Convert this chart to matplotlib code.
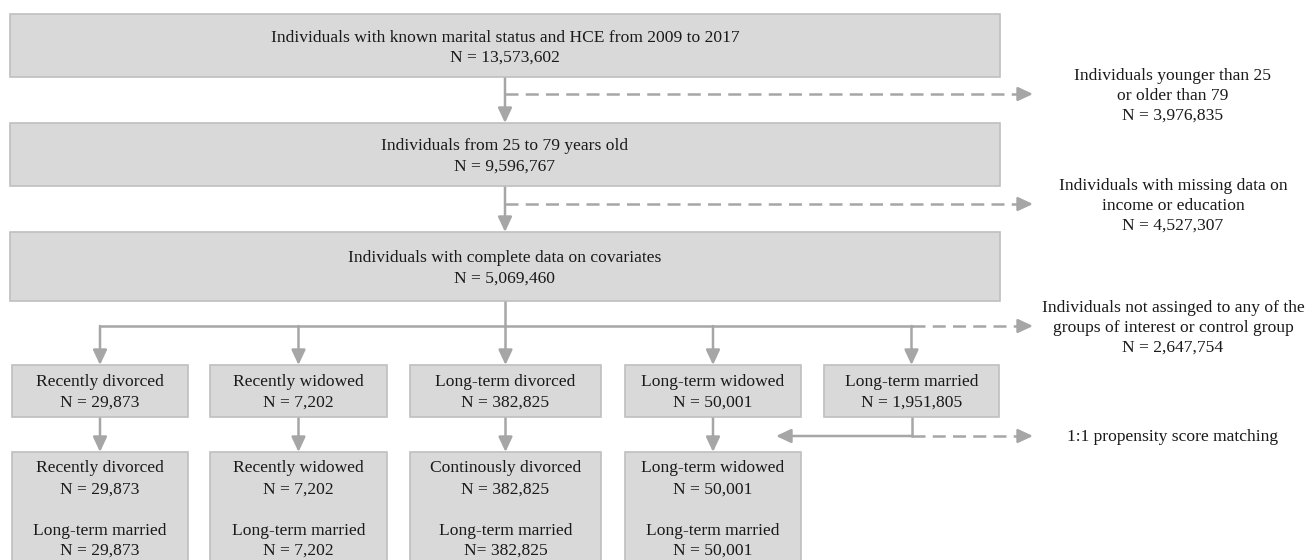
import matplotlib.pyplot as plt
from matplotlib.patches import Rectangle

# -------------------------
# DATA
# -------------------------

main_labels = [
    "Individuals with known marital status and HCE from 2009 to 2017",
    "Individuals from 25 to 79 years old",
    "Individuals with complete data on covariates",
]
main_n = ["13,573,602", "9,596,767", "5,069,460"]

excluded_labels = [
    "Individuals younger than 25\nor older than 79",
    "Individuals with missing data on\nincome or education",
    "Individuals not assinged to any of the\ngroups of interest or control group",
]
excluded_n = ["3,976,835", "4,527,307", "2,647,754"]

group_labels = ["Recently divorced", "Recently widowed", "Long-term divorced",
                "Long-term widowed", "Long-term married"]
group_n = ["29,873", "7,202", "382,825", "50,001", "1,951,805"]

matched_labels = ["Recently divorced", "Recently widowed",
                  "Continously divorced", "Long-term widowed"]
matched_n = ["N = 29,873", "N = 7,202", "N = 382,825", "N = 50,001"]
control_label = "Long-term married"
control_n = ["N = 29,873", "N = 7,202", "N= 382,825", "N = 50,001"]

matching_label = "1:1 propensity score matching"

# -------------------------
# LAYOUT / STYLE
# -------------------------

FILL = "#d9d9d9"
EDGE = "#bfbfbf"
LINE = "#a6a6a6"
TXT = "#1a1a1a"
FS = 12.6
LW = 1.8
FONT = ["Liberation Serif", "DejaVu Serif"]

main_x = (10, 1000)
main_y = [(14, 77), (123, 186), (232, 301)]
main_cx = 505

excl_line_y = [94, 204, 326]
excl_cx = 1173
excl_end = 1033

group_x = [(12, 188), (210, 387), (410, 601), (625, 801), (824, 999)]
group_y = (365, 417)
branch_y = 326
matched_y = (452, 562)
match_line_y = 436

plt.rcParams["font.family"] = FONT

fig = plt.figure(figsize=(13.06, 5.6), dpi=100)
ax = fig.add_axes([0, 0, 1, 1])
ax.set_xlim(0, 1306)
ax.set_ylim(560, 0)
ax.axis("off")


def box(x0, x1, y0, y1):
    ax.add_patch(Rectangle((x0, y0), x1 - x0, y1 - y0, facecolor=FILL,
                           edgecolor=EDGE, lw=1.2, zorder=2))


def text(x, y, s, spacing=1.22):
    ax.text(x, y, s, ha="center", va="center", fontsize=FS, color=TXT,
            linespacing=spacing, zorder=3)


def arrow(x0, y0, x1, y1):
    ax.annotate("", xy=(x1, y1), xytext=(x0, y0),
                arrowprops=dict(arrowstyle="-|>,head_length=0.9,head_width=0.42",
                                color=LINE, lw=LW, shrinkA=0, shrinkB=0,
                                mutation_scale=10), zorder=1)


def dashed_arrow(x0, x1, y):
    ax.plot([x0, x1 - 10], [y, y], color=LINE, lw=LW,
            ls=(0, (5.2, 2.9)), zorder=1)
    arrow(x1 - 12, y, x1, y)


# -------------------------
# MAIN COLUMN
# -------------------------

for i, (y0, y1) in enumerate(main_y):
    box(main_x[0], main_x[1], y0, y1)
    mid = (y0 + y1) / 2
    text(main_cx, mid - 8, main_labels[i])
    text(main_cx, mid + 12, "N = " + main_n[i])

for i in range(2):
    arrow(main_cx, main_y[i][1], main_cx, main_y[i + 1][0])

# exclusions
for i in range(3):
    start = main_cx if i < 2 else (group_x[4][0] + group_x[4][1]) / 2
    dashed_arrow(start, excl_end, excl_line_y[i])
    text(excl_cx, excl_line_y[i] + 2,
         excluded_labels[i] + "\nN = " + excluded_n[i], spacing=1.3)

# -------------------------
# BRANCH TO GROUPS
# -------------------------

centers = [(a + b) / 2 for a, b in group_x]
ax.plot([main_cx, main_cx], [main_y[2][1], branch_y], color=LINE, lw=LW, zorder=1)
ax.plot([centers[0], centers[-1]], [branch_y, branch_y], color=LINE, lw=LW, zorder=1)

for i, (x0, x1) in enumerate(group_x):
    arrow(centers[i], branch_y, centers[i], group_y[0])
    box(x0, x1, group_y[0], group_y[1])
    text(centers[i], 382, group_labels[i])
    text(centers[i], 403, "N = " + group_n[i])

# -------------------------
# MATCHED PAIRS
# -------------------------

for i in range(len(matched_labels)):
    x0, x1 = group_x[i]
    arrow(centers[i], group_y[1], centers[i], matched_y[0])
    box(x0, x1, matched_y[0], matched_y[1])
    text(centers[i], 468, matched_labels[i])
    text(centers[i], 490, matched_n[i])
    text(centers[i], 531, control_label)
    text(centers[i], 551, control_n[i])

# matching from the control group
ax.plot([centers[4], centers[4]], [group_y[1], match_line_y], color=LINE, lw=LW, zorder=1)
arrow(centers[4], match_line_y, 776, match_line_y)
dashed_arrow(centers[4], excl_end, match_line_y)
text(excl_cx, match_line_y + 1, matching_label)

plt.savefig("out.png", dpi=100)
